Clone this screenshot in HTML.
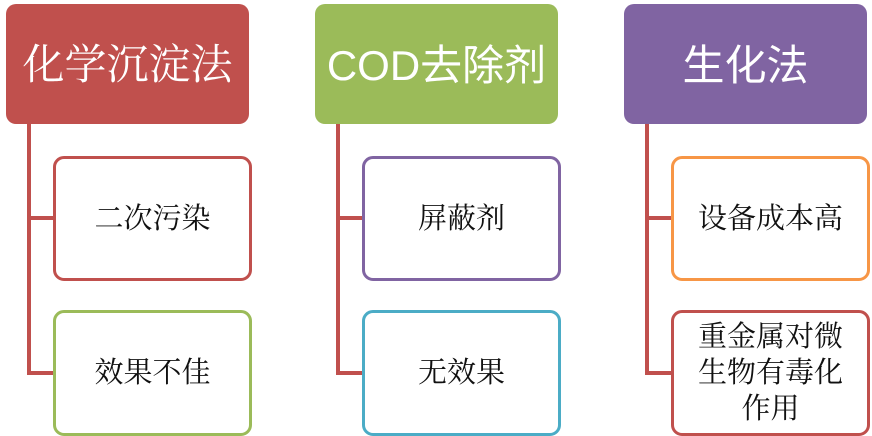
<!DOCTYPE html>
<html><head><meta charset="utf-8"><style>
body{margin:0;width:872px;height:436px;background:#fff;position:relative;overflow:hidden;font-family:"Liberation Serif","Noto Serif CJK SC",serif}
.h{position:absolute;top:4px;width:243px;height:120px;border-radius:10px;color:#fff;font-size:42px;display:flex;align-items:center;justify-content:center;padding-bottom:4px;box-sizing:border-box}
.c{position:absolute;width:199px;border:3px solid;border-radius:11px;box-sizing:border-box;display:flex;align-items:center;justify-content:center;text-align:center;font-size:29px;line-height:36px;color:#111;background:#fff}
.v{position:absolute;width:4px;background:#C0504D;top:124px;height:251px}
.hl{position:absolute;height:4px;background:#C0504D;width:26px}
</style></head><body>
<div class="h" style="left:6px;background:#C0504D">化学沉淀法</div>
<div class="h" style="left:315px;background:#9BBB59;font-family:'Liberation Sans','Noto Sans CJK SC',sans-serif">COD去除剂</div>
<div class="h" style="left:624px;background:#8064A2;font-family:'Liberation Sans','Noto Sans CJK SC',sans-serif">生化法</div>

<div class="v" style="left:27px"></div>
<div class="hl" style="left:27px;top:216px"></div>
<div class="hl" style="left:27px;top:371px"></div>
<div class="v" style="left:336px"></div>
<div class="hl" style="left:336px;top:216px"></div>
<div class="hl" style="left:336px;top:371px"></div>
<div class="v" style="left:645px"></div>
<div class="hl" style="left:645px;top:216px"></div>
<div class="hl" style="left:645px;top:371px"></div>

<div class="c" style="left:53px;top:156px;height:125px;border-color:#C0504D">二次污染</div>
<div class="c" style="left:53px;top:310px;height:126px;border-color:#9BBB59">效果不佳</div>
<div class="c" style="left:362px;top:156px;height:125px;border-color:#8064A2">屏蔽剂</div>
<div class="c" style="left:362px;top:310px;height:126px;border-color:#4BACC6">无效果</div>
<div class="c" style="left:671px;top:156px;height:125px;border-color:#F79646">设备成本高</div>
<div class="c" style="left:671px;top:310px;height:126px;border-color:#C0504D">重金属对微<br>生物有毒化<br>作用</div>
</body></html>
